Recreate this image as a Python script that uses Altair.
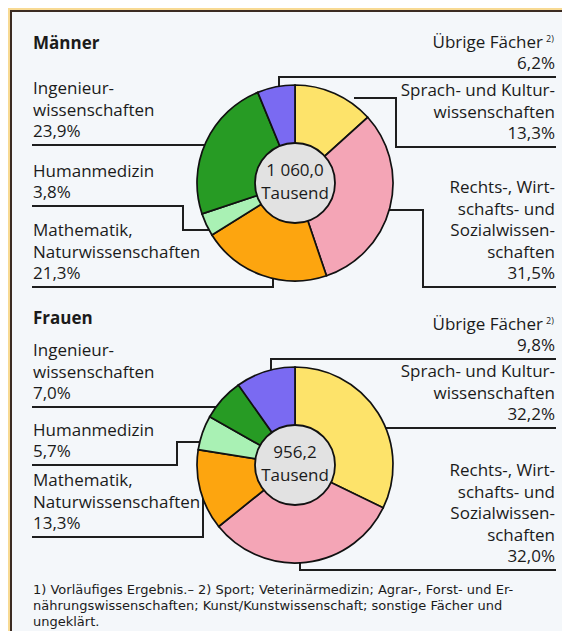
import math
import altair as alt
import pandas as pd

# ---------------- data ----------------
categories = [
    "Sprach- und Kulturwissenschaften",
    "Rechts-, Wirtschafts- und Sozialwissenschaften",
    "Mathematik, Naturwissenschaften",
    "Humanmedizin",
    "Ingenieurwissenschaften",
    "Übrige Fächer",
]
label_lines = [
    ["Sprach- und Kultur-", "wissenschaften"],
    ["Rechts-, Wirt-", "schafts- und", "Sozialwissen-", "schaften"],
    ["Mathematik,", "Naturwissenschaften"],
    ["Humanmedizin"],
    ["Ingenieur-", "wissenschaften"],
    ["Übrige Fächer"],
]
men_share = [13.3, 31.5, 21.3, 3.8, 23.9, 6.2]
women_share = [32.2, 32.0, 13.3, 5.7, 7.0, 9.8]
groups = ["Männer", "Frauen"]
totals = ["1 060,0", "956,2"]
unit = "Tausend"
footnote = [
    "1) Vorläufiges Ergebnis.– 2) Sport; Veterinärmedizin; Agrar-, Forst- und Er-",
    "nährungswissenschaften; Kunst/Kunstwissenschaft; sonstige Fächer und",
    "ungeklärt.",
]

# ---------------- styles / layout ----------------
colors = ["#FDE36A", "#F4A5B6", "#FDA50F", "#A9F1B4", "#279B24", "#7A6AF2"]
FONT = "Open Sans"
FOOT_FONT = "DejaVu Sans"
INK = "#1b1b1b"
W, H = 554, 623          # plot area (page minus 8px margins)
OFF = 8                  # page margin -> reference coords
LEFT_X, RIGHT_X = 33, 555
LH = 21.5
R_OUT, R_IN = 98, 40
FOOT_Y = [590, 606, 622]

layout = {
    "Männer": {
        "center": (295, 183), "title_y": 43.5,
        "side": ["right", "right", "left", "left", "left", "right"],
        "line_y": [147, 287, 287, 206, 145, 77],
        "paths": [
            [(355, 98), (396, 98), (396, 147), (555, 147)],
            [(385, 210), (423, 210), (423, 287), (555, 287)],
            [(33, 287), (273, 287), (273, 268)],
            [(33, 206), (183, 206), (183, 230), (212, 230)],
            [(33, 145), (215, 145)],
            [(279, 95), (279, 77), (555, 77)],
        ],
    },
    "Frauen": {
        "center": (295, 465), "title_y": 319,
        "side": ["right", "right", "left", "left", "left", "right"],
        "line_y": [428, 570, 537, 465, 407, 359],
        "paths": [
            [(385, 428), (555, 428)],
            [(300, 555), (300, 570), (555, 570)],
            [(33, 537), (203, 537), (203, 495)],
            [(33, 465), (177, 465), (177, 442), (212, 442)],
            [(33, 407), (225, 407)],
            [(271, 380), (271, 359), (555, 359)],
        ],
    },
}

xs = alt.Scale(domain=[OFF, OFF + W], range=[0, W])
ys = alt.Scale(domain=[OFF, OFF + H], range=[0, H])
X = lambda f: alt.X(f, type="quantitative", scale=xs, axis=None)
Y = lambda f: alt.Y(f, type="quantitative", scale=ys, axis=None)
X2 = lambda f: alt.X2(f)
Y2 = lambda f: alt.Y2(f)

def pct(v):
    return f"{v:.1f}".replace(".", ",") + "%"

# build tables
seg_rows, text_rows, sup_rows, pie_layers = [], [], [], []
for g, shares, tot in zip(groups, [men_share, women_share], totals):
    L = layout[g]
    cx, cy = L["center"]
    for i, cat in enumerate(categories):
        pts = L["paths"][i]
        for (a, b) in zip(pts[:-1], pts[1:]):
            seg_rows.append({"x": a[0], "y": a[1], "x2": b[0], "y2": b[1]})
        lines = label_lines[i] + [pct(shares[i])]
        n = len(lines)
        side = L["side"][i]
        for j, t in enumerate(lines):
            y = L["line_y"][i] - 13 - (n - 1 - j) * LH
            x = LEFT_X if side == "left" else RIGHT_X
            if cat == "Übrige Fächer" and j == 0:
                x = RIGHT_X - 12
                sup_rows.append({"x": RIGHT_X - 9, "y": y - 4, "text": "2)"})
            text_rows.append({"x": x, "y": y, "text": t, "side": side, "kind": "label"})
    text_rows.append({"x": LEFT_X, "y": L["title_y"], "text": g, "side": "left", "kind": "title"})
    text_rows.append({"x": cx, "y": cy - 12, "text": tot, "side": "center", "kind": "center"})
    text_rows.append({"x": cx, "y": cy + 11, "text": unit, "side": "center", "kind": "center"})

    df = pd.DataFrame({"cat": categories, "share": shares, "ord": list(range(len(categories)))})
    pie = alt.Chart(df).mark_arc(radius=R_OUT, stroke="#111111", strokeWidth=1.7).encode(
        theta=alt.Theta("share:Q", stack=True, scale=alt.Scale(domain=[0, 100])),
        order=alt.Order("ord:Q"),
        color=alt.Color("cat:N", scale=alt.Scale(domain=categories, range=colors), legend=None),
        x=alt.value(cx - OFF), y=alt.value(cy - OFF),
    )
    hole = alt.Chart(pd.DataFrame({"a": [0]})).mark_arc(
        radius=R_IN, theta=0, theta2=2 * math.pi, fill="#E2E2E2", stroke="#111111", strokeWidth=1.8
    ).encode(x=alt.value(cx - OFF), y=alt.value(cy - OFF))
    pie_layers += [pie, hole]

for k, t in enumerate(footnote):
    text_rows.append({"x": LEFT_X, "y": FOOT_Y[k], "text": t, "side": "left", "kind": "foot"})

segs = pd.DataFrame(seg_rows)
texts = pd.DataFrame(text_rows)
sups = pd.DataFrame(sup_rows)

panel = alt.Chart(pd.DataFrame({"a": [0]})).mark_rect(
    fill="#F4F7FA", stroke="#3B2B22", strokeWidth=2, clip=True
).encode(x=alt.value(11 - OFF), x2=alt.value(W + 40), y=alt.value(11 - OFF), y2=alt.value(H + 40))

leaders = alt.Chart(segs).mark_rule(color="#1e1e1e", strokeWidth=2, strokeCap="square").encode(
    x=X("x"), y=Y("y"), x2=X2("x2"), y2=Y2("y2")
)

def text_layer(kind, side, size, weight="normal", font=FONT):
    d = texts[(texts["kind"] == kind) & (texts["side"] == side)]
    return alt.Chart(d).mark_text(
        align=side, baseline="middle", font=font, fontSize=size, fontWeight=weight, color=INK
    ).encode(x=X("x"), y=Y("y"), text="text:N")

sup = alt.Chart(sups).mark_text(align="left", baseline="middle", font=FONT, fontSize=9, color=INK).encode(
    x=X("x"), y=Y("y"), text="text:N"
)

chart = alt.layer(
    panel,
    leaders,
    *pie_layers,
    text_layer("label", "left", 17),
    text_layer("label", "right", 17),
    text_layer("title", "left", 17, "bold"),
    text_layer("center", "center", 17),
    text_layer("foot", "left", 13, font=FOOT_FONT),
    sup,
).properties(
    width=W, height=H, background="#F8DA93", padding=0,
    autosize=alt.AutoSizeParams(type="none"),
).configure_view(stroke=None)

chart.save("out.html", embed_options={"renderer": "svg", "actions": False})
